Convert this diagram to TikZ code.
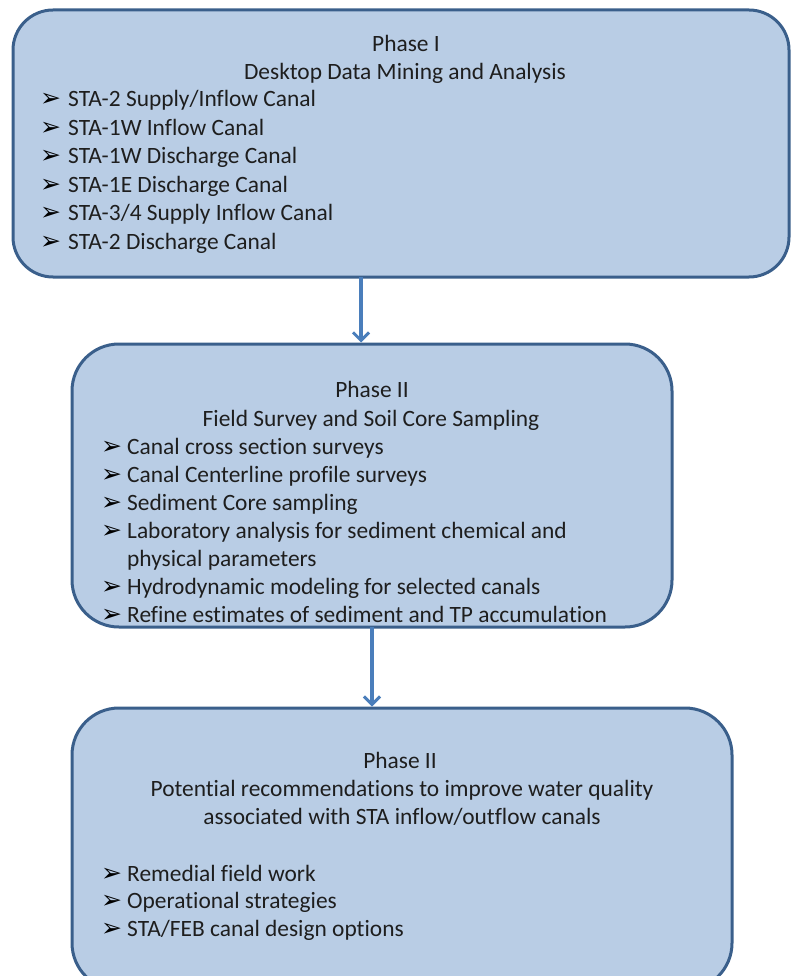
\documentclass[tikz,border=0pt]{standalone}
\usepackage{fontspec}
\setmainfont{Carlito}[Ligatures=NoCommon]
\newfontfamily\bulletfont{DejaVu Sans}
\usetikzlibrary{arrows.meta}
\definecolor{boxfill}{HTML}{B9CDE5}
\definecolor{boxline}{HTML}{3A5F8B}
\definecolor{arrowblue}{HTML}{4A7EBB}
\definecolor{textcol}{HTML}{1E1E1E}
\begin{document}
\begin{tikzpicture}[x=1pt,y=-1pt,
  phasebox/.style={draw=boxline, fill=boxfill, line width=3pt, rounded corners=#1, inner sep=0pt},
  flow/.style={draw=arrowblue, line width=3.2pt, -{Straight Barb[length=8pt,width=16pt,line width=3pt]}},
  body/.style={font=\fontsize{23.4}{28}\selectfont, text=textcol, inner sep=0pt, anchor=base west},
  title/.style={font=\fontsize{23.4}{28}\selectfont, text=textcol, inner sep=0pt, anchor=base},
  bulletmark/.style={font=\bulletfont\fontsize{25}{25}\selectfont, text=black, inner sep=0pt, anchor=base west}]
\useasboundingbox (0,0) rectangle (791,976);

% the three phase panels
\node[phasebox=40pt, minimum width=776pt, minimum height=267pt] (p1) at (401,143.5) {};
\node[phasebox=47pt, minimum width=600pt, minimum height=283pt] (p2) at (372,485.5) {};
\node[phasebox=47pt, minimum width=660pt, minimum height=282pt] (p3) at (402,849) {};

% connectors between phases
\coordinate (a1) at (361,277);
\coordinate (a2) at (372,627);
\draw[flow] (a1) -- (a1 |- p2.north);
\draw[flow] (a2) -- (a2 |- p3.north);

% Phase I
\node[title] (t1a) at (406,52) {Phase I};
\node[title] (t1b) at (405,80) {Desktop Data Mining and Analysis};
\foreach \t [count=\i] in {{STA-2 Supply/Inflow Canal}, {STA-1W Inflow Canal}, {STA-1W Discharge Canal}, {STA-1E Discharge Canal}, {STA-3/4 Supply Inflow Canal}, {STA-2 Discharge Canal}}{
  \node[bulletmark] (m1-\i) at (40,{107+(\i-1)*28.4}) {➢};
  \node[body] (l1-\i) at (68,{107+(\i-1)*28.4}) {\t};
}

% Phase II
\node[title] (t2a) at (372,397) {Phase II};
\node[title] (t2b) at (371,426) {Field Survey and Soil Core Sampling};
\foreach \t/\yy [count=\i] in {{Canal cross section surveys}/454, {Canal Centerline profile surveys}/482, {Sediment Core sampling}/510, {Laboratory analysis for sediment chemical and}/538, {Hydrodynamic modeling for selected canals}/594, {Refine estimates of sediment and TP accumulation}/622}{
  \node[bulletmark] (m2-\i) at (101,\yy) {➢};
  \node[body] (l2-\i) at (127,\yy) {\t};
}
\node[body] (l2-x) at (127,566) {physical parameters};

% Phase III
\node[title] (t3a) at (400,768) {Phase II};
\node[title] (t3b) at (402,796) {Potential recommendations to improve water quality};
\node[title] (t3c) at (402,824) {associated with STA inflow/outflow canals};
\foreach \t/\yy [count=\i] in {{Remedial field work}/881, {Operational strategies}/908, {STA/FEB canal design options}/936}{
  \node[bulletmark] (m3-\i) at (101,\yy) {➢};
  \node[body] (l3-\i) at (127,\yy) {\t};
}
\end{tikzpicture}
\end{document}
